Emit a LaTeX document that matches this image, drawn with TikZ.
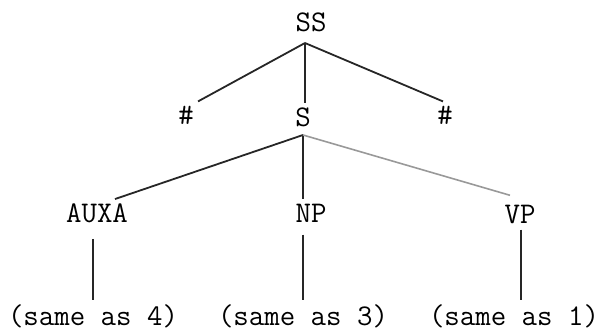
\documentclass[tikz,border=0pt]{standalone}
\usepackage{fontspec}
\usetikzlibrary{calc}
\tikzset{
  lbl/.style={font=\ttfamily\fontsize{15}{18}\selectfont, inner sep=2pt},
  branch/.style={draw=black!85, line width=0.9pt},
  faint/.style={draw=black!40, line width=0.8pt}
}
\begin{document}
\begin{tikzpicture}[x=0.5pt,y=-0.5pt]
  \useasboundingbox (0,0) rectangle (601,331);
  % root and first level
  \node[lbl] (ss) at (311,22) {SS};
  \node[lbl] (hl) at (186,115) {\#};
  \node[lbl] (s)  at (303,117) {S};
  \node[lbl] (hr) at (445,115) {\#};
  \coordinate (ssj) at (305,43);
  \draw[branch] (ssj) -- ($(hl.north)+(12,0)$);
  \draw[branch] (ssj) -- (ssj |- s.north);
  \draw[branch] (ssj) -- ($(hr.north)+(-2,0)$);
  % second level
  \node[lbl] (auxa) at (97,213) {AUXA};
  \node[lbl] (np)   at (311,213) {NP};
  \node[lbl] (vp)   at (520,214) {VP};
  \coordinate (sj) at (303,135);
  \draw[branch] (sj) -- ($(auxa.north)+(18,0)$);
  \draw[branch] (sj) -- (sj |- np.north);
  \draw[faint]  (sj) -- ($(vp.north)+(-10,-5)$);
  % third level
  \node[lbl] (same4) at (93,316)  {(same as 4)};
  \node[lbl] (same3) at (303,316) {(same as 3)};
  \node[lbl] (same1) at (514,316) {(same as 1)};
  \draw[branch, shorten <=6pt] (same4.north |- auxa.south) -- (same4.north);
  \draw[branch, shorten <=4pt] (same3.north |- np.south) -- (same3.north);
  \draw[branch, shorten <=1pt] ($(same1.north |- vp.south)+(7,0)$) -- ($(same1.north)+(7,0)$);
\end{tikzpicture}
\end{document}
